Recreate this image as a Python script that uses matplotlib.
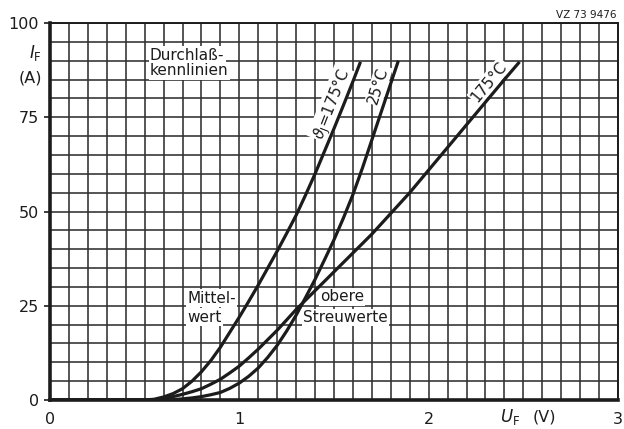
import numpy as np
import matplotlib
matplotlib.use("Agg")
import matplotlib.pyplot as plt

# ---- data ----
# Mittelwert, junction temperature 175 °C
u_mean175 = [0, 0.5, 0.55, 0.6, 0.65, 0.7, 0.75, 0.8, 0.85, 0.9, 0.95, 1.0, 1.05,
             1.1, 1.15, 1.2, 1.25, 1.3, 1.35, 1.4, 1.45, 1.5, 1.55, 1.6, 1.64]
i_mean175 = [0, 0, 0.2, 0.8, 1.7, 3, 5, 7.5, 10.5, 14, 18, 22, 26.2,
             30.5, 35, 39.5, 44.2, 49, 54.4, 60, 66, 72, 78.2, 84.5, 89.7]
# obere Streuwerte, 25 °C
u_up25 = [0, 0.6, 0.65, 0.7, 0.75, 0.8, 0.85, 0.9, 0.95, 1.0, 1.05, 1.1, 1.15,
          1.2, 1.25, 1.3, 1.35, 1.4, 1.45, 1.5, 1.55, 1.6, 1.65, 1.7, 1.77, 1.84]
i_up25 = [0, 0, 0.1, 0.3, 0.55, 0.9, 1.4, 2, 3.1, 4.5, 6.3, 8.5, 11.3,
          14.5, 18.3, 22.5, 27.2, 32, 37.2, 42.5, 48.3, 54.5, 61.5, 69, 79.5, 90]
# obere Streuwerte, 175 °C
u_up175 = [0, 0.55, 0.6, 0.65, 0.7, 0.75, 0.8, 0.85, 0.9, 0.95, 1.0, 1.05, 1.1,
           1.15, 1.2, 1.3, 1.4, 1.5, 1.6, 1.7, 1.8, 1.9, 2.0, 2.1, 2.2, 2.3, 2.4, 2.48]
i_up175 = [0, 0, 0.4, 0.9, 1.5, 2.2, 3, 4.2, 5.5, 7.2, 9, 11.2, 13.5,
           16, 18.5, 24, 29, 34, 39, 44, 49.5, 55, 61, 67, 73, 79, 85, 89.7]

x_ticks = [0, 1, 2, 3]
x_ticklabels = ["0", "1", "2", "3"]
y_ticks = [0, 25, 50, 75, 100]
y_ticklabels = ["0", "25", "50", "75", "100"]

ink = "#1c1c1c"

fig = plt.figure(figsize=(6.24, 4.29), dpi=100)
ax = fig.add_axes([50/624, 29/429, 568/624, 377/429])
ax.set_xlim(0, 3)
ax.set_ylim(0, 100)

# grid
ax.set_xticks(np.arange(0, 3.001, 0.1), minor=True)
ax.set_yticks(np.arange(0, 100.001, 5), minor=True)
ax.set_xticks(x_ticks)
ax.set_xticklabels(x_ticklabels)
ax.set_yticks(y_ticks)
ax.set_yticklabels(y_ticklabels)
ax.grid(which="both", color="#303030", lw=1.15, zorder=1)
ax.set_axisbelow(True)
ax.tick_params(which="minor", length=0)
ax.tick_params(axis="x", which="major", length=0, pad=9, labelsize=11.5, colors=ink)
ax.tick_params(axis="y", which="major", length=4, width=1.2, pad=4, labelsize=11.5, colors=ink)
for s in ["top", "right"]:
    ax.spines[s].set_linewidth(1.4)
    ax.spines[s].set_color(ink)
for s in ["left", "bottom"]:
    ax.spines[s].set_linewidth(2.6)
    ax.spines[s].set_color(ink)

# curves
for u, i in [(u_mean175, i_mean175), (u_up25, i_up25), (u_up175, i_up175)]:
    ax.plot(u, i, color=ink, lw=2.3, solid_capstyle="butt", solid_joinstyle="round", zorder=5)

box = dict(facecolor="white", edgecolor="none", pad=1.0)
fs = 11

ax.text(0.528, 91.5, "Durchlaß-", ha="left", va="center", fontsize=fs, color=ink, bbox=box, zorder=4)
ax.text(0.528, 87.3, "kennlinien", ha="left", va="center", fontsize=fs, color=ink, bbox=box, zorder=4)
ax.text(0.724, 27.0, "Mittel-", ha="left", va="center", fontsize=fs, color=ink, bbox=box, zorder=4)
ax.text(0.724, 22.0, "wert", ha="left", va="center", fontsize=fs, color=ink, bbox=box, zorder=4)
ax.text(1.426, 27.4, "obere", ha="left", va="center", fontsize=fs, color=ink, bbox=box, zorder=4)
ax.text(1.336, 21.9, "Streuwerte", ha="left", va="center", fontsize=fs, color=ink, bbox=box, zorder=4)

# rotated curve labels
ax.text(1.49, 78.5, r"$\vartheta_\mathrm{J}$=175°C", rotation=68.5, ha="center", va="center",
        fontsize=fs, color=ink, bbox=box, zorder=4, rotation_mode="anchor")
ax.text(1.735, 83.5, "25°C", rotation=73, ha="center", va="center",
        fontsize=fs, color=ink, bbox=box, zorder=4, rotation_mode="anchor")
ax.text(2.32, 84.5, "175°C", rotation=50.5, ha="center", va="center",
        fontsize=fs, color=ink, bbox=box, zorder=4, rotation_mode="anchor")

# axis labels
ax.text(-0.045, 92.0, r"$I_\mathrm{F}$", ha="right", va="center", fontsize=12, color=ink, clip_on=False)
ax.text(-0.04, 85.4, "(A)", ha="right", va="center", fontsize=11.5, color=ink, clip_on=False)
ax.text(2.43, -4.6, r"$U_\mathrm{F}$", ha="center", va="center", fontsize=12, color=ink, clip_on=False)
ax.text(2.61, -4.6, "(V)", ha="center", va="center", fontsize=11.5, color=ink, clip_on=False)

ax.text(2.99, 100.8, "VZ 73 9476", ha="right", va="bottom", fontsize=7.5, color=ink, clip_on=False)

fig.savefig("out.png", dpi=100, facecolor="white")
